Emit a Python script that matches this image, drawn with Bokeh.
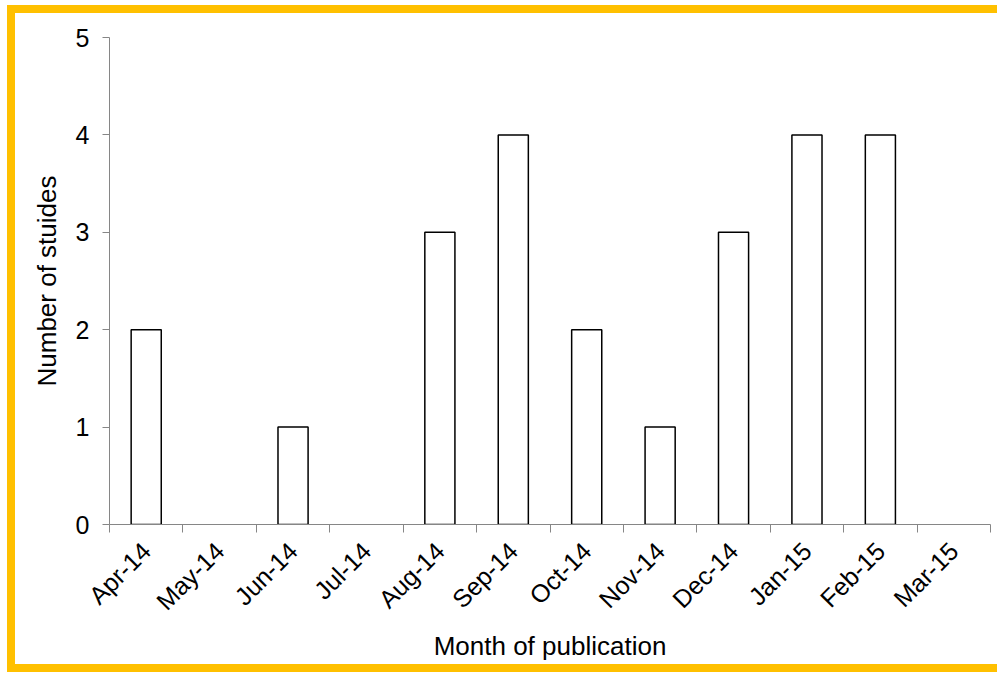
import math
from bokeh.plotting import figure
from bokeh.models import FixedTicker, Range1d, ColumnDataSource
from bokeh.embed import file_html
from bokeh.resources import INLINE

months = ["Apr-14", "May-14", "Jun-14", "Jul-14", "Aug-14", "Sep-14",
          "Oct-14", "Nov-14", "Dec-14", "Jan-15", "Feb-15", "Mar-15"]
studies = [2, 0, 1, 0, 3, 4, 2, 1, 3, 4, 4, 0]
y_ticks = [0, 1, 2, 3, 4, 5]

centers = [i + 0.5 for i in range(len(months))]
bounds = list(range(len(months) + 1))
src = ColumnDataSource(dict(x=[c for c, v in zip(centers, studies) if v > 0],
                            top=[v for v in studies if v > 0]))

p = figure(width=982, height=651, output_backend="svg", toolbar_location=None,
           x_range=Range1d(0, len(months)), y_range=Range1d(0, 5),
           min_border_left=94, min_border_top=24, min_border_right=7, min_border_bottom=10)
p.styles = {"outline": "8px solid #FFC000",
            "margin-left": "15px", "margin-top": "13px"}

p.vbar(x="x", top="top", bottom=0, width=0.41, source=src,
       fill_color="white", line_color="black", line_width=1.5)

p.xgrid.visible = False
p.ygrid.visible = False
p.outline_line_color = None

ax = p.xaxis[0]
ax.ticker = FixedTicker(ticks=centers, minor_ticks=bounds)
ax.major_label_overrides = {c: m for c, m in zip(centers, months)}
ax.major_tick_in = 0
ax.major_tick_out = 0
ax.minor_tick_in = 0
ax.minor_tick_out = 8
ax.minor_tick_line_color = "#868686"
ax.axis_line_color = "#868686"
ax.major_label_orientation = math.pi / 4
ax.major_label_text_font = "Liberation Sans"
ax.major_label_text_font_size = "25px"
ax.major_label_text_color = "black"
ax.major_label_standoff = 14
ax.axis_label = "Month of publication"
ax.axis_label_text_font = "Liberation Sans"
ax.axis_label_text_font_size = "26px"
ax.axis_label_text_font_style = "normal"
ax.axis_label_text_color = "black"
ax.axis_label_standoff = 3

ay = p.yaxis[0]
ay.ticker = FixedTicker(ticks=y_ticks, minor_ticks=[])
ay.major_tick_in = 0
ay.major_tick_out = 7
ay.major_tick_line_color = "#868686"
ay.axis_line_color = "#868686"
ay.major_label_text_font = "Liberation Sans"
ay.major_label_text_font_size = "25px"
ay.major_label_text_color = "black"
ay.major_label_standoff = 13
ay.axis_label = "Number of stuides"
ay.axis_label_text_font = "Liberation Sans"
ay.axis_label_text_font_size = "26px"
ay.axis_label_text_font_style = "normal"
ay.axis_label_text_color = "black"
ay.axis_label_standoff = 11

open("out.html", "w").write(file_html(p, INLINE))
